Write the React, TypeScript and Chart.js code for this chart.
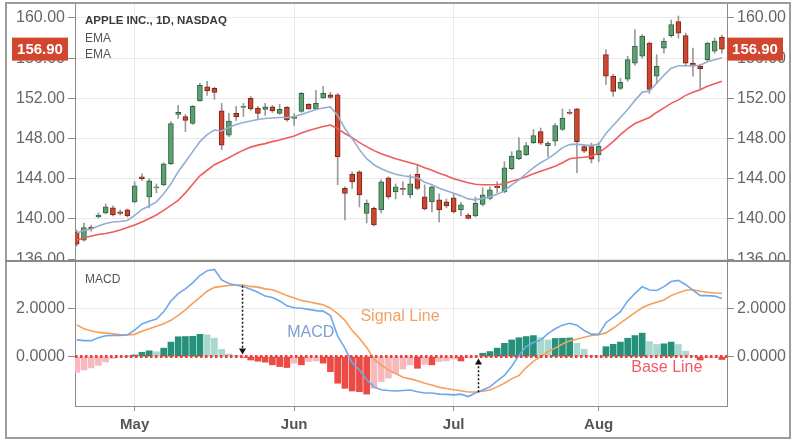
import React, { useEffect, useRef } from 'react';
import { Chart, registerables } from 'chart.js';

Chart.register(...registerables);
Chart.defaults.font.family = "'Liberation Sans', Arial, sans-serif";

// ---------- data ----------
const opens = [138.7, 137.9, 139.2, 140.2, 140.6, 141.1, 140.7, 140.9, 141.7, 144.2,
  142.2, 143.1, 143.4, 145.5, 150.4, 150.2, 149.5, 151.75, 153.15, 153.0,
  150.75, 148.35, 150.5, 151.1, 152.0, 151.0, 150.9, 151.15, 150.5, 151.1,
  150.0, 150.7, 151.4, 150.95, 152.05, 152.35, 152.35, 143.05, 144.45, 144.7,
  140.55, 141.05, 140.9, 144.1, 142.7, 143.05, 142.4, 144.45, 142.2, 141.7,
  141.9, 141.7, 142.1, 140.9, 140.4, 140.3, 141.45, 142.05, 143.25, 142.7,
  145.0, 146.0, 146.4, 147.6, 148.7, 147.3, 147.75, 148.9, 150.6, 150.95,
  147.2, 147.2, 146.4, 156.35, 154.2, 153.0, 153.9, 155.5, 156.2, 157.5,
  154.2, 157.0, 158.25, 159.65, 158.25, 155.5, 155.2, 155.85, 156.7, 158.1];
const highs = [138.9, 139.6, 139.4, 140.6, 141.5, 141.3, 140.9, 141.0, 143.7, 144.5,
  144.0, 143.5, 145.6, 149.7, 151.3, 150.4, 151.3, 153.5, 153.7, 153.1,
  151.5, 150.5, 151.2, 151.5, 152.2, 151.2, 151.5, 151.3, 151.4, 151.2,
  150.5, 152.6, 151.5, 152.8, 153.2, 152.6, 152.5, 143.2, 144.7, 144.8,
  141.9, 141.2, 143.9, 144.2, 143.5, 143.7, 144.4, 145.4, 143.4, 143.3,
  142.5, 142.0, 142.5, 141.65, 140.55, 142.2, 143.1, 143.2, 143.7, 145.7,
  146.7, 148.1, 147.6, 148.9, 149.05, 147.7, 149.5, 150.95, 150.9, 151.0,
  147.4, 147.55, 147.6, 156.85, 154.4, 154.0, 156.2, 158.85, 158.35, 157.6,
  156.35, 158.0, 159.8, 160.2, 158.5, 157.0, 155.4, 157.6, 158.0, 158.3];
const lows = [137.3, 137.8, 138.8, 140.1, 140.5, 140.3, 140.4, 140.2, 141.6, 143.8,
  141.1, 142.6, 143.3, 145.4, 150.0, 148.7, 149.4, 151.7, 152.3, 151.9,
  146.9, 148.2, 149.8, 150.2, 150.8, 149.9, 150.3, 150.6, 150.4, 149.7,
  149.3, 150.6, 150.9, 150.9, 152.0, 152.0, 143.4, 139.9, 143.05, 141.2,
  139.6, 139.3, 140.6, 142.0, 142.0, 142.4, 142.1, 142.9, 140.9, 140.7,
  139.7, 141.1, 140.6, 140.3, 140.0, 140.2, 141.3, 141.9, 142.6, 142.6,
  144.9, 145.9, 146.3, 147.5, 147.4, 146.2, 147.3, 148.8, 150.4, 144.6,
  146.6, 145.57, 145.7, 153.4, 152.2, 152.85, 153.7, 155.3, 156.0, 152.5,
  153.5, 156.5, 158.1, 158.0, 155.2, 154.2, 152.9, 155.7, 156.5, 156.5];
const closes = [137.5, 139.15, 139.0, 140.4, 141.2, 140.4, 140.55, 140.3, 143.3, 144.0,
  143.8, 143.2, 145.5, 149.5, 150.6, 149.8, 151.2, 153.3, 152.75, 152.6,
  147.35, 149.75, 150.15, 151.2, 150.95, 150.5, 151.15, 150.75, 150.9, 149.85,
  150.15, 152.5, 150.95, 151.5, 152.5, 152.1, 146.2, 142.55, 143.7, 142.4,
  141.55, 139.4, 143.7, 142.2, 143.2, 142.95, 143.5, 143.05, 141.0, 143.2,
  140.9, 141.3, 140.7, 141.4, 140.05, 141.55, 142.4, 142.9, 143.1, 145.1,
  146.25, 146.8, 147.3, 148.3, 147.55, 147.55, 149.3, 150.05, 150.5, 147.7,
  146.75, 145.95, 147.25, 154.2, 152.7, 153.6, 155.85, 157.2, 158.2, 152.9,
  155.2, 157.7, 159.35, 158.5, 155.5, 155.2, 154.95, 157.5, 157.7, 156.9];

const emaFast = [138.6, 138.85, 139.0, 139.3, 139.55, 139.7, 139.75, 139.85, 140.35, 140.95,
  141.3, 141.7, 142.5, 143.5, 144.7, 145.7, 146.7, 147.7, 148.4, 148.85,
  148.75, 149.1, 149.4, 149.6, 149.75, 149.9, 150.0, 150.05, 150.1, 150.1,
  150.2, 150.4, 150.65, 150.9, 151.05, 151.15, 150.3, 149.0, 148.0, 146.9,
  146.0, 145.4, 145.0, 144.7, 144.45, 144.3, 144.2, 144.1, 143.65, 143.4,
  143.05, 142.8, 142.55, 142.3, 142.0, 141.9, 142.05, 142.2, 142.45, 142.8,
  143.4, 143.9, 144.5, 145.1, 145.6, 146.0, 146.5, 147.1, 147.4, 147.45,
  147.35, 147.3, 147.45, 148.5, 149.3, 150.1, 150.9, 151.8, 152.6, 152.75,
  153.5, 154.3, 155.0, 155.25, 155.25, 155.25, 155.3, 155.65, 155.85, 156.05];
const emaSlow = [137.9, 138.1, 138.3, 138.45, 138.55, 138.7, 138.9, 139.15, 139.4, 139.7,
  140.05, 140.4, 140.85, 141.35, 141.85, 142.6, 143.45, 144.3, 144.85, 145.4,
  145.75, 146.1, 146.5, 146.85, 147.15, 147.35, 147.5, 147.7, 147.85, 148.05,
  148.25, 148.55, 148.8, 149.0, 149.2, 149.35, 149.0, 148.5, 148.1, 147.6,
  147.2, 146.8, 146.5, 146.25, 146.0, 145.8, 145.6, 145.4, 145.1, 144.85,
  144.55, 144.3, 144.0, 143.8, 143.6, 143.45, 143.4, 143.4, 143.4, 143.5,
  143.75, 143.95, 144.2, 144.5, 144.75, 145.0, 145.25, 145.6, 146.0, 146.1,
  146.15, 146.25, 146.6, 147.1, 147.7, 148.4, 149.0, 149.5, 149.8, 150.1,
  150.6, 151.05, 151.5, 151.85, 152.3, 152.6, 152.85, 153.2, 153.45, 153.7];

const macd = [0.69, 0.66, 0.66, 0.78, 0.86, 0.87, 0.87, 0.9, 1.1, 1.35,
  1.46, 1.55, 1.85, 2.3, 2.6, 2.8, 3.05, 3.35, 3.55, 3.6,
  3.17, 3.02, 2.95, 2.9, 2.78, 2.66, 2.5, 2.44, 2.3, 2.1,
  2.02, 2.0, 1.95, 1.9, 1.88, 1.7, 0.85, 0.35, -0.25, -0.55,
  -0.95, -1.25, -1.37, -1.4, -1.42, -1.4, -1.38, -1.45, -1.5, -1.5,
  -1.55, -1.56, -1.58, -1.55, -1.65, -1.5, -1.38, -1.25, -1.0, -0.78,
  -0.4, 0.05, 0.42, 0.58, 0.68, 0.95, 1.15, 1.3, 1.38, 1.3,
  1.08, 0.93, 0.92, 1.4, 1.62, 1.86, 2.3, 2.6, 2.89, 2.75,
  2.73, 2.89, 3.1, 3.15, 2.97, 2.75, 2.52, 2.52, 2.5, 2.4];
const signal = [1.31, 1.15, 1.07, 1.0, 0.97, 0.94, 0.91, 0.9, 0.92, 1.05,
  1.15, 1.25, 1.36, 1.5, 1.7, 1.93, 2.2, 2.45, 2.7, 2.86,
  2.9, 2.94, 2.96, 2.96, 2.9, 2.87, 2.8, 2.76, 2.65, 2.52,
  2.42, 2.32, 2.27, 2.2, 2.14, 2.0, 1.78, 1.5, 1.08, 0.76,
  0.38, -0.1, -0.35, -0.55, -0.7, -0.85, -0.92, -1.0, -1.1, -1.17,
  -1.27, -1.32, -1.37, -1.41, -1.46, -1.46, -1.43, -1.38, -1.25, -1.1,
  -0.92, -0.78, -0.45, -0.2, 0.0, 0.2, 0.35, 0.52, 0.65, 0.72,
  0.8, 0.87, 0.9, 0.98, 1.17, 1.38, 1.6, 1.82, 2.02, 2.15,
  2.25, 2.34, 2.52, 2.64, 2.74, 2.76, 2.7, 2.66, 2.63, 2.62];
const hist = [-0.65, -0.55, -0.47, -0.36, -0.22, -0.08, -0.02, 0.02, 0.07, 0.18,
  0.24, 0.2, 0.35, 0.6, 0.82, 0.83, 0.84, 0.92, 0.9, 0.76,
  0.3, 0.11, 0.04, -0.03, -0.14, -0.19, -0.23, -0.34, -0.41, -0.45,
  -0.27, -0.34, -0.2, -0.18, -0.27, -0.62, -1.1, -1.31, -1.42, -1.45,
  -1.55, -1.31, -1.03, -0.89, -0.69, -0.51, -0.34, -0.48, -0.32, -0.34,
  -0.2, -0.18, -0.1, -0.18, -0.05, -0.02, 0.14, 0.21, 0.35, 0.55,
  0.69, 0.78, 0.83, 0.87, 0.79, 0.69, 0.75, 0.76, 0.77, 0.55,
  0.3, 0.05, 0.02, 0.41, 0.51, 0.6, 0.76, 0.87, 0.97, 0.62,
  0.5, 0.53, 0.6, 0.5, 0.22, 0.03, -0.14, -0.05, -0.03, -0.12];

const monthTicks = [8, 30, 52, 72];
const monthLabels = ['May', 'Jun', 'Jul', 'Aug'];
const priceTicks = [136, 140, 144, 148, 152, 156, 160];
const macdTicks = [0, 2];
const crossovers = [{ i: 22.8, v: 2.93 }, { i: 55.4, v: -1.47 }];
const annotations = [
  { text: 'MACD', i: 32.3, v: 1.0, color: '#7d9fd3' },
  { text: 'Signal Line', i: 44.6, v: 1.66, color: '#f2a264' },
  { text: 'Base Line', i: 81.4, v: -0.45, color: '#ef5b68' },
];
const lastPrice = 156.9;

// ---------- styling ----------
const X_MIN = -0.23;
const X_MAX = 89.7;
const GRID = '#e8e8e8';
const AXIS = '#8c8c8c';
const TICK_TXT = '#666';
const UP_FILL = '#5c9f71';
const UP_LINE = '#2f6440';
const DN_FILL = '#cc4630';
const DN_LINE = '#7e2516';
const G_DARK = '#25917a';
const G_LIGHT = '#a8d8ce';
const R_DARK = '#ec4a44';
const R_LIGHT = '#f8b9bd';

const xy = (arr: number[]) => arr.map((v, i) => ({ x: i, y: v }));

const monthAxis = (showLabels: boolean): any => ({
  type: 'linear',
  min: X_MIN,
  max: X_MAX,
  offset: false,
  afterBuildTicks: (s: any) => { s.ticks = monthTicks.map((v) => ({ value: v })); },
  ticks: {
    display: showLabels,
    autoSkip: false,
    maxRotation: 0,
    color: '#555',
    font: { size: 15, weight: 'bold' },
    padding: 5,
    callback: (v: number) => monthLabels[monthTicks.indexOf(v)],
  },
  grid: { color: GRID, offset: false, drawTicks: showLabels, tickLength: 5, tickColor: AXIS },
  border: { display: showLabels, color: AXIS },
  afterFit: (s: any) => { s.height = showLabels ? 35 : 0; s.paddingLeft = 0; s.paddingRight = 0; },
});

const valueAxis = (pos: 'left' | 'right', min: number, max: number, ticks: number[], digits: number): any => ({
  position: pos,
  min,
  max,
  afterBuildTicks: (s: any) => { s.ticks = ticks.map((v) => ({ value: v })); },
  ticks: { color: TICK_TXT, font: { size: 16 }, padding: 3, callback: (v: number) => v.toFixed(digits) },
  grid: { color: GRID, drawOnChartArea: pos === 'left', tickColor: AXIS, tickLength: 7 },
  border: { color: AXIS },
  afterFit: (s: any) => { s.width = pos === 'left' ? 75 : 66; s.paddingTop = 0; s.paddingBottom = 0; },
});

const priceTagPlugin = {
  id: 'priceTag',
  afterDraw(chart: any) {
    const { ctx, scales } = chart;
    const y = scales.y.getPixelForValue(lastPrice);
    const left = scales.y.left;
    const right = scales.yR.left;
    ctx.save();
    ctx.fillStyle = '#d2452e';
    ctx.fillRect(left + 12, y - 11.5, 56, 23);
    ctx.fillRect(right, y - 11.5, 56, 23);
    ctx.fillStyle = '#fff';
    ctx.font = "bold 15px 'Liberation Sans', Arial, sans-serif";
    ctx.textAlign = 'center';
    ctx.textBaseline = 'middle';
    ctx.fillText(lastPrice.toFixed(2), left + 40, y + 1);
    ctx.fillText(lastPrice.toFixed(2), right + 28, y + 1);
    ctx.restore();
  },
};

const macdNotesPlugin = {
  id: 'macdNotes',
  afterDatasetsDraw(chart: any) {
    const { ctx, scales } = chart;
    const xs = scales.x;
    const ys = scales.y;
    ctx.save();
    crossovers.forEach((c) => {
      const px = Math.round(xs.getPixelForValue(c.i)) + 0.5;
      const p0 = ys.getPixelForValue(c.v);
      const pz = ys.getPixelForValue(0);
      const dir = c.v > 0 ? 1 : -1; // 1 -> arrow points down
      const tip = pz - dir * 2;
      ctx.strokeStyle = '#111';
      ctx.lineWidth = 1.5;
      ctx.setLineDash([2, 2]);
      ctx.beginPath();
      ctx.moveTo(px, p0);
      ctx.lineTo(px, tip - dir * 5);
      ctx.stroke();
      ctx.setLineDash([]);
      ctx.fillStyle = '#111';
      ctx.beginPath();
      ctx.moveTo(px, tip);
      ctx.lineTo(px - 3.5, tip - dir * 6);
      ctx.lineTo(px + 3.5, tip - dir * 6);
      ctx.closePath();
      ctx.fill();
    });
    ctx.font = "16px 'Liberation Sans', Arial, sans-serif";
    ctx.textAlign = 'center';
    ctx.textBaseline = 'middle';
    annotations.forEach((a) => {
      ctx.fillStyle = a.color;
      ctx.fillText(a.text, xs.getPixelForValue(a.i), ys.getPixelForValue(a.v));
    });
    ctx.restore();
  },
};

export default function App() {
  const topRef = useRef<HTMLCanvasElement>(null);
  const botRef = useRef<HTMLCanvasElement>(null);

  useEffect(() => {
    const bodyFill = opens.map((o, i) => (closes[i] >= o ? UP_FILL : DN_FILL));
    const bodyLine = opens.map((o, i) => (closes[i] >= o ? UP_LINE : DN_LINE));
    const histColors = hist.map((v, i) => {
      const rising = i === 0 ? true : v >= hist[i - 1];
      if (v >= 0) return rising ? G_DARK : G_LIGHT;
      return rising ? R_LIGHT : R_DARK;
    });

    const top = new Chart(topRef.current as HTMLCanvasElement, {
      type: 'bar',
      data: {
        datasets: [
          {
            type: 'bar', label: 'wick',
            data: lows.map((l, i) => ({ x: i, y: [l, highs[i]] })) as any,
            backgroundColor: '#9a9a9a', barThickness: 1, grouped: false, order: 3,
          },
          {
            type: 'bar', label: 'body',
            data: opens.map((o, i) => ({ x: i, y: [o, closes[i]] })) as any,
            backgroundColor: bodyFill, borderColor: bodyLine, borderWidth: 1,
            borderSkipped: false, barThickness: 5, grouped: false, order: 2,
          },
          {
            type: 'line', label: 'EMA fast', data: xy(emaFast) as any,
            borderColor: '#93afd0', borderWidth: 1.6, pointRadius: 0, order: 1,
          },
          {
            type: 'line', label: 'EMA slow', data: xy(emaSlow) as any,
            borderColor: '#f25b5b', borderWidth: 1.6, pointRadius: 0, order: 1,
          },
        ],
      } as any,
      options: {
        animation: false,
        responsive: false,
        events: [],
        layout: { padding: { top: 4, left: 0, right: 0, bottom: 0 } },
        plugins: { legend: { display: false }, tooltip: { enabled: false } },
        scales: {
          x: monthAxis(false),
          y: valueAxis('left', 135.82, 161.39, priceTicks, 2),
          yR: valueAxis('right', 135.82, 161.39, priceTicks, 2),
        },
      } as any,
      plugins: [priceTagPlugin],
    });

    const bot = new Chart(botRef.current as HTMLCanvasElement, {
      type: 'bar',
      data: {
        datasets: [
          {
            type: 'line', label: 'Base Line',
            data: [{ x: X_MIN, y: 0 }, { x: X_MAX, y: 0 }],
            borderColor: '#f23c3c', borderWidth: 3, borderDash: [2.5, 2.5], pointRadius: 0, order: 0,
          },
          {
            type: 'line', label: 'MACD', data: xy(macd) as any,
            borderColor: '#6ea8ec', borderWidth: 1.6, pointRadius: 0, order: 1,
          },
          {
            type: 'line', label: 'Signal', data: xy(signal) as any,
            borderColor: '#f5a05a', borderWidth: 1.6, pointRadius: 0, order: 1,
          },
          {
            type: 'bar', label: 'Histogram', data: xy(hist) as any,
            backgroundColor: histColors, barThickness: 6, grouped: false, order: 2,
          },
        ],
      } as any,
      options: {
        animation: false,
        responsive: false,
        events: [],
        layout: { padding: 0 },
        plugins: { legend: { display: false }, tooltip: { enabled: false } },
        scales: {
          x: monthAxis(true),
          y: valueAxis('left', -2.04, 3.95, macdTicks, 4),
          yR: valueAxis('right', -2.04, 3.95, macdTicks, 4),
        },
      } as any,
      plugins: [macdNotesPlugin],
    });

    return () => { top.destroy(); bot.destroy(); };
  }, []);

  const txt = (extra: React.CSSProperties): React.CSSProperties => ({
    position: 'absolute', left: 85, lineHeight: 1, whiteSpace: 'nowrap',
    fontFamily: "'Liberation Sans', Arial, sans-serif", ...extra,
  });

  return (
    <div style={{ position: 'absolute', left: 0, top: 0, width: 793, height: 441, background: '#fff', overflow: 'hidden' }}>
      <canvas ref={topRef} width={793} height={261} style={{ position: 'absolute', left: 0, top: 0 }} />
      <canvas ref={botRef} width={793} height={180} style={{ position: 'absolute', left: 0, top: 261 }} />
      <div style={{ position: 'absolute', left: 5, top: 2, width: 786, height: 437, border: '2px solid #9c9c9c', boxSizing: 'border-box', pointerEvents: 'none' }} />
      <div style={{ position: 'absolute', left: 5, top: 260, width: 786, height: 2, background: '#8a8a8a' }} />
      <div style={txt({ top: 15, fontSize: 11.5, fontWeight: 'bold', color: '#3a3a3a' })}>APPLE INC., 1D, NASDAQ</div>
      <div style={txt({ top: 32, fontSize: 12, color: '#555' })}>EMA</div>
      <div style={txt({ top: 47.5, fontSize: 12, color: '#555' })}>EMA</div>
      <div style={txt({ top: 273, fontSize: 12, color: '#555' })}>MACD</div>
    </div>
  );
}
